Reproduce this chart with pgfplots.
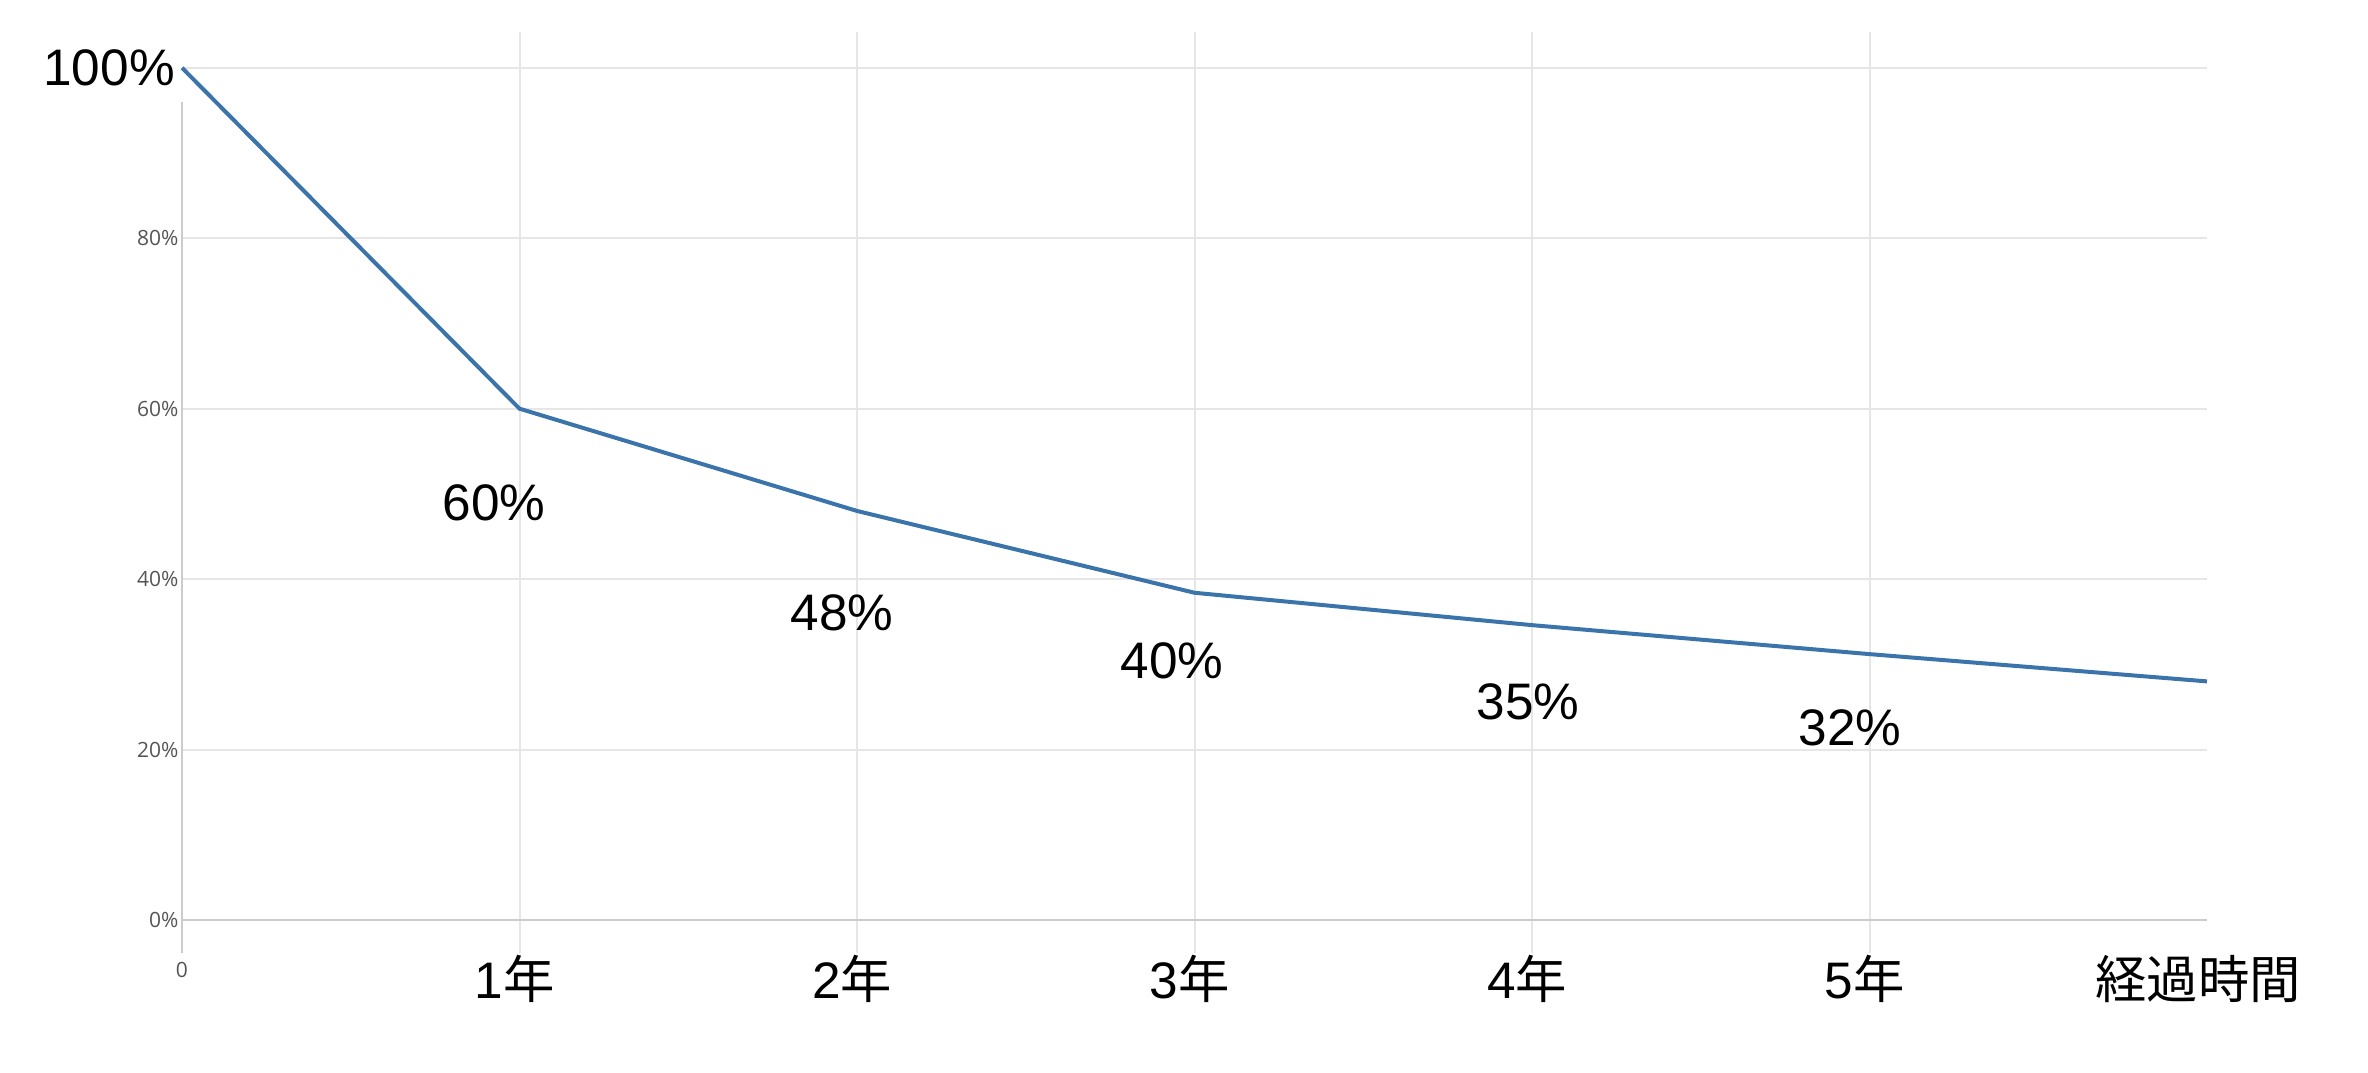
\documentclass[border=0pt]{standalone}
\usepackage{pgfplots}
\pgfplotsset{compat=1.18}
\usepackage{fontspec}
\setmainfont{Liberation Sans}
\newfontfamily\jp{Noto Sans CJK JP}
\newfontfamily\opn{Open Sans}
\definecolor{linec}{HTML}{3B74AB}
\definecolor{gridc}{HTML}{E6E6E6}
\definecolor{axc}{HTML}{CCCCCC}
\definecolor{tlc}{HTML}{555555}
\newcommand\bigf{\fontsize{15.4bp}{18bp}\selectfont}
\newcommand\smallf{\opn\fontsize{6.3bp}{7.5bp}\selectfont}
\begin{document}
\begin{tikzpicture}
\path[use as bounding box] (-54.6bp,-35.7bp) rectangle (655.8bp,285.9bp);
\begin{axis}[
  scale only axis, width=607.5bp, height=276.3bp,
  xmin=0, xmax=6, ymin=-3.87, ymax=104.2,
  clip=false,
  axis line style={draw=none},
  major tick length=0pt,
  xtick={1,2,3,4,5},
  xticklabels={1{\jp 年},2{\jp 年},3{\jp 年},4{\jp 年},5{\jp 年}},
  xticklabel style={font=\bigf, anchor=center, yshift=-7.8bp, xshift=-1.4bp, text=black},
  extra x ticks={6},
  extra x tick labels={{\jp 経過時間}},
  extra x tick style={grid=none, xticklabel style={xshift=-1.3bp}},
  ytick={0,20,40,60,80,100},
  yticklabels={0\%,20\%,40\%,60\%,80\%,},
  yticklabel style={font=\smallf, text=tlc, anchor=east, inner sep=0pt, xshift=-0.9bp},
  xmajorgrids, ymajorgrids,
  grid style={gridc, line width=0.6bp},
]
\draw[axc, line width=0.5bp] (axis cs:0,-3.87) -- (axis cs:0,96);
\draw[axc, line width=0.5bp] (axis cs:0,0) -- (axis cs:6,0);
\addplot[linec, line width=1.2bp] coordinates {
  (0,100) (1,60) (2,48) (3,38.4) (4,34.6) (5,31.2) (6,28)
};
\node[font=\smallf, text=tlc] at (axis cs:0,-5.87) {0};
\node[font=\bigf, anchor=east, inner sep=0pt, xshift=-2bp] at (axis cs:0,100) {100\%};
\node[font=\bigf, inner sep=0pt] at (axis cs:0.924,48.9) {60\%};
\node[font=\bigf, inner sep=0pt] at (axis cs:1.956,36.0) {48\%};
\node[font=\bigf, inner sep=0pt] at (axis cs:2.933,30.4) {40\%};
\node[font=\bigf, inner sep=0pt] at (axis cs:3.988,25.6) {35\%};
\node[font=\bigf, inner sep=0pt] at (axis cs:4.942,22.6) {32\%};
\end{axis}
\end{tikzpicture}
\end{document}
